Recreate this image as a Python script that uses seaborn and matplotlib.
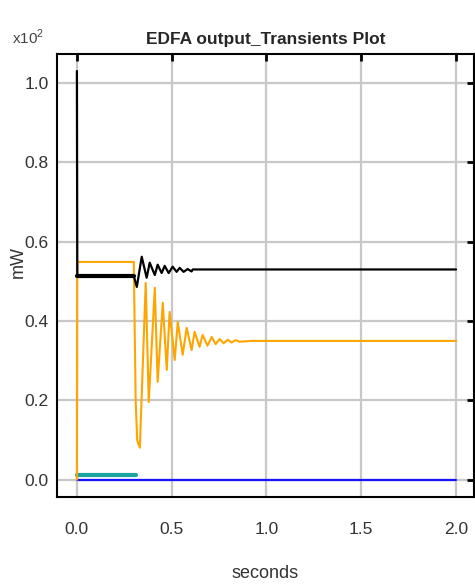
import matplotlib
matplotlib.use("Agg")
import matplotlib.pyplot as plt
import seaborn as sns
import pandas as pd

# ---- data (time in seconds, power in x10^2 mW) ----
black_t = [0.0, 0.002, 0.300, 0.316, 0.342, 0.368, 0.384, 0.411, 0.426, 0.447,
           0.463, 0.484, 0.505, 0.526, 0.542, 0.563, 0.584, 0.605, 0.611, 2.0]
black_p = [1.03, 0.514, 0.514, 0.486, 0.562, 0.509, 0.547, 0.516, 0.542, 0.521,
           0.539, 0.521, 0.537, 0.524, 0.534, 0.524, 0.531, 0.525, 0.530, 0.530]

orange_t = [0.0, 0.002, 0.300, 0.310, 0.318, 0.332, 0.363, 0.379, 0.411, 0.426,
            0.453, 0.474, 0.489, 0.516, 0.532, 0.558, 0.579, 0.605, 0.621, 0.647,
            0.663, 0.689, 0.711, 0.732, 0.753, 0.774, 0.795, 0.816, 0.837, 0.858,
            0.920, 2.0]
orange_p = [0.0, 0.549, 0.549, 0.200, 0.100, 0.081, 0.496, 0.196, 0.484, 0.247,
            0.446, 0.277, 0.423, 0.302, 0.398, 0.315, 0.383, 0.327, 0.373, 0.335,
            0.365, 0.338, 0.360, 0.342, 0.355, 0.344, 0.353, 0.346, 0.352, 0.348,
            0.350, 0.350]

teal_t = [0.0, 0.31]
teal_p = [0.012, 0.012]

blue_t = [0.0, 2.0]
blue_p = [0.0, 0.0]

xticks = [0.0, 0.5, 1.0, 1.5, 2.0]
yticks = [0.0, 0.2, 0.4, 0.6, 0.8, 1.0]
xtick_labels = ["0.0", "0.5", "1.0", "1.5", "2.0"]
ytick_labels = ["0.0", "0.2", "0.4", "0.6", "0.8", "1.0"]

title = "EDFA output_Transients Plot"
xlabel = "seconds"
ylabel = "mW"
scale_label = r"x10$^2$"

# ---- plot ----
sns.set_style("white")
plt.rcParams["font.family"] = ["Liberation Sans", "DejaVu Sans"]
plt.rcParams["mathtext.fontset"] = "custom"
plt.rcParams["mathtext.rm"] = "Liberation Sans"

fig = plt.figure(figsize=(4.75, 5.86), dpi=100)
ax = fig.add_axes([0.12, 0.152, 0.878, 0.756])

series = [
    (blue_t, blue_p, "#1414ff", 1.6),
    (teal_t, teal_p, "#1aa3a0", 3.0),
    (orange_t, orange_p, "#ffa500", 1.5),
    (black_t, black_p, "#000000", 1.6),
]
for t, p, c, lw in series:
    df = pd.DataFrame({"t": t, "p": p})
    sns.lineplot(data=df, x="t", y="p", color=c, lw=lw, sort=False,
                 estimator=None, ax=ax)

# thicker initial steady black segment
df0 = pd.DataFrame({"t": black_t[1:3], "p": black_p[1:3]})
sns.lineplot(data=df0, x="t", y="p", color="#000000", lw=3.0, sort=False,
             estimator=None, ax=ax)

ax.set_xlim(-0.105, 2.095)
ax.set_ylim(-0.043, 1.073)
ax.set_xticks(xticks)
ax.set_xticklabels(xtick_labels)
ax.set_yticks(yticks)
ax.set_yticklabels(ytick_labels)
ax.grid(True, color="#c8c8c8", lw=1.6)
ax.set_axisbelow(True)
for s in ax.spines.values():
    s.set_color("black")
    s.set_linewidth(1.5)
ax.tick_params(direction="in", length=5, width=2, top=True, right=True,
               colors="black", labelcolor="#333333", labelsize=12.5)
ax.tick_params(axis="x", pad=18)
ax.tick_params(axis="y", pad=6)

ax.set_xlabel(xlabel, fontsize=13, color="#333333", va="center")
ax.xaxis.set_label_coords(0.5, -0.172)
ax.set_ylabel(ylabel, fontsize=13, color="#333333", va="center")
ax.yaxis.set_label_coords(-0.094, 0.53)
ax.set_title(title, fontsize=12.5, fontweight="bold", pad=7)
fig.text(0.025, 0.925, scale_label, fontsize=11, color="#444444")

fig.savefig("out.png", dpi=100)
